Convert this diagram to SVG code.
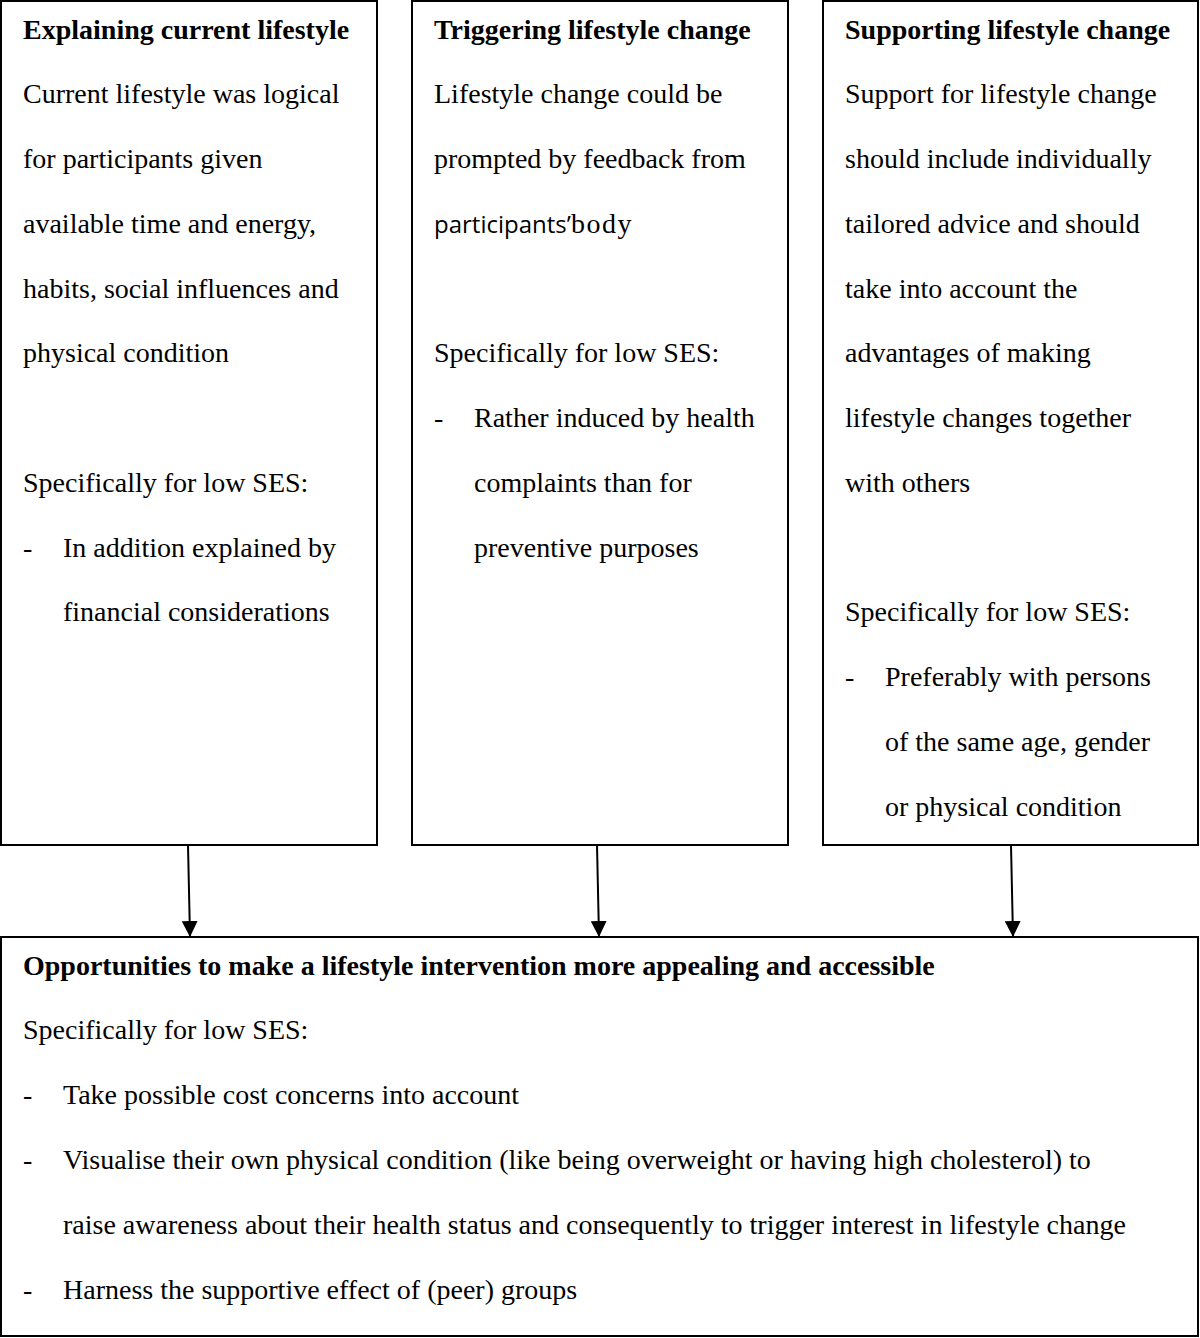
<svg xmlns="http://www.w3.org/2000/svg" width="1200" height="1338" viewBox="0 0 1200 1338">
<style>
.box{fill:#fff;stroke:#000;stroke-width:2}
text{font-family:"Liberation Serif","Times New Roman",serif;font-size:28px;fill:#000}
.b{font-weight:bold}
.sans{font-family:"Open Sans","Noto Sans",sans-serif;font-size:24px}
.conn line{stroke:#000;stroke-width:2}
</style>
<defs>
<marker id="ah" viewBox="0 0 16 16" refX="16" refY="8" markerWidth="16" markerHeight="16" markerUnits="userSpaceOnUse" orient="auto">
<path d="M0,0 L16,8 L0,16 Z" fill="#000"/>
</marker>
</defs>
<rect width="1200" height="1338" fill="#fff"/>
<g id="box1">
<rect class="box" x="1" y="1" width="376" height="844"/>
<text class="b" x="23" y="39">Explaining current lifestyle</text>
<text x="23" y="103">Current lifestyle was logical</text>
<text x="23" y="168">for participants given</text>
<text x="23" y="233">available time and energy,</text>
<text x="23" y="298">habits, social influences and</text>
<text x="23" y="362">physical condition</text>
<text x="23" y="492">Specifically for low SES:</text>
<text x="23" y="557">-</text>
<text x="63" y="557">In addition explained by</text>
<text x="63" y="621">financial considerations</text>
</g>
<g id="box2">
<rect class="box" x="412" y="1" width="376" height="844"/>
<text class="b" x="434" y="39">Triggering lifestyle change</text>
<text x="434" y="103">Lifestyle change could be</text>
<text x="434" y="168">prompted by feedback from</text>
<text x="434" y="233"><tspan class="sans">participants’</tspan><tspan x="571" letter-spacing="1.5">body</tspan></text>
<text x="434" y="362">Specifically for low SES:</text>
<text x="434" y="427">-</text>
<text x="474" y="427">Rather induced by health</text>
<text x="474" y="492">complaints than for</text>
<text x="474" y="557">preventive purposes</text>
</g>
<g id="box3">
<rect class="box" x="823" y="1" width="375" height="844"/>
<text class="b" x="845" y="39">Supporting lifestyle change</text>
<text x="845" y="103">Support for lifestyle change</text>
<text x="845" y="168">should include individually</text>
<text x="845" y="233">tailored advice and should</text>
<text x="845" y="298">take into account the</text>
<text x="845" y="362">advantages of making</text>
<text x="845" y="427">lifestyle changes together</text>
<text x="845" y="492">with others</text>
<text x="845" y="621">Specifically for low SES:</text>
<text x="845" y="686">-</text>
<text x="885" y="686">Preferably with persons</text>
<text x="885" y="751">of the same age, gender</text>
<text x="885" y="816">or physical condition</text>
</g>
<g id="box4">
<rect class="box" x="1" y="937" width="1197" height="399"/>
<text class="b" x="23" y="975">Opportunities to make a lifestyle intervention more appealing and accessible</text>
<text x="23" y="1039">Specifically for low SES:</text>
<text x="23" y="1104">-</text>
<text x="63" y="1104">Take possible cost concerns into account</text>
<text x="23" y="1169">-</text>
<text x="63" y="1169">Visualise their own physical condition (like being overweight or having high cholesterol) to</text>
<text x="63" y="1234">raise awareness about their health status and consequently to trigger interest in lifestyle change</text>
<text x="23" y="1299">-</text>
<text x="63" y="1299">Harness the supportive effect of (peer) groups</text>
</g>
<g id="connectors" class="conn">
<line x1="188" y1="845" x2="190" y2="937" marker-end="url(#ah)"/>
<line x1="597" y1="845" x2="599" y2="937" marker-end="url(#ah)"/>
<line x1="1011" y1="845" x2="1013" y2="937" marker-end="url(#ah)"/>
</g>
</svg>
